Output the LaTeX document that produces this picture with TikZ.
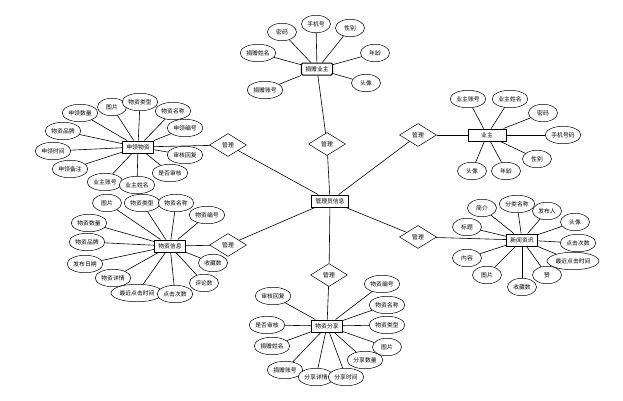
\documentclass[tikz,border=0pt]{standalone}
\usepackage{fontspec}
\setmainfont{Noto Sans CJK SC}
\usetikzlibrary{shapes.geometric}
\begin{document}
\begin{tikzpicture}[x=1pt,y=-1pt,
  attr/.style={draw,ellipse,fill=white,line width=0.5pt,minimum width=29pt,minimum height=17.5pt,inner xsep=1pt,inner ysep=1pt,font=\fontsize{5.8}{6}\selectfont},
  ent/.style={draw,rectangle,fill=white,line width=1pt,minimum height=12pt,inner xsep=4pt,inner ysep=1pt,font=\fontsize{5.8}{6}\selectfont},
  rel/.style={draw,diamond,fill=white,line width=0.5pt,minimum width=37pt,minimum height=23pt,inner sep=0pt,font=\fontsize{5.8}{6}\selectfont},
  link/.style={line width=0.6pt}]
\useasboundingbox (0,0) rectangle (623,400);
\fill[white] (0,0) rectangle (623,400);

% center
\node[ent] (c) at (330,201) {管理员信息};
% diamonds
\node[rel] (dT) at (327,144) {管理};
\node[rel] (dLU) at (228,145) {管理};
\node[rel] (dLL) at (228,245) {管理};
\node[rel] (dRU) at (418,135) {管理};
\node[rel] (dRL) at (418,237) {管理};
\node[rel] (dB) at (329,275) {管理};
% entities
\node[ent,rounded corners=1.5pt] (eT) at (317,69) {捐赠业主};
\node[ent] (eLU) at (138,147) {申领物资};
\node[ent] (eLL) at (170,246) {物资信息};
\node[ent] (eB) at (327,326) {物资分享};
\node[ent] (eRL) at (522,240) {新闻资讯};
\node[ent,minimum width=38pt] (eRU) at (487,135) {业主};

\foreach \d/\e in {dT/eT,dLU/eLU,dLL/eLL,dRU/eRU,dRL/eRL,dB/eB}{
  \draw[link] (c) -- (\d);
  \draw[link] (\d) -- (\e);
}

% top entity
\foreach \n/\p/\t in {t1/{282,32}/密码,t2/{316,24}/手机号,t3/{350,28}/性别,t4/{258,53}/捐赠姓名,t5/{375,53}/年龄,t6/{366,83}/头像,t7/{265,90}/捐赠账号}{
  \node[attr] (\n) at (\p) {\t};
  \draw[link] (eT) -- (\n);
}
% left upper entity
\foreach \n/\p/\t in {a1/{80,113}/申领数量,a2/{112,107}/图片,a3/{140,102}/物资类型,a4/{173,111}/物资名称,a5/{185,128}/申领编号,a6/{63,131}/物资品牌,a7/{53,151}/申领时间,a8/{70,169}/申领备注,a9/{185,155}/审核回复,a10/{170,173}/是否审核,a11/{105,182}/业主账号,a12/{137,185}/业主姓名}{
  \node[attr] (\n) at (\p) {\t};
  \draw[link] (eLU) -- (\n);
}
% left lower entity
\foreach \n/\p/\t in {b1/{107,203}/图片,b2/{142,203}/物资类型,b3/{176,203}/物资名称,b4/{207,215}/物资编号,b5/{89,223}/物资数量,b6/{87,242}/物资品牌,b7/{85,264}/发布日期,b8/{113,278}/物资详情,b9/{137,293}/最近点击时间,b10/{175,294}/点击次数,b11/{204,283}/评论数,b12/{213,263}/收藏数}{
  \node[attr] (\n) at (\p) {\t};
  \draw[link] (eLL) -- (\n);
}
% bottom entity
\foreach \n/\p/\t in {g1/{273,296}/审核回复,g2/{267,325}/是否审核,g3/{272,346}/捐赠姓名,g4/{285,370}/捐赠账号,g5/{316,377}/分享详情,g6/{346,377}/分享时间,g7/{365,360}/分享数量,g8/{387,347}/图片,g9/{387,325}/物资类型,g10/{387,305}/物资名称,g11/{382,284}/物资编号}{
  \node[attr] (\n) at (\p) {\t};
  \draw[link] (eB) -- (\n);
}
% right lower entity
\foreach \n/\p/\t in {r1/{482,208}/简介,r2/{517,204}/分类名称,r3/{547,211}/发布人,r4/{575,222}/头像,r5/{467,227}/标题,r6/{578,243}/点击次数,r7/{573,261}/最近点击时间,r8/{467,258}/内容,r9/{487,275}/图片,r10/{547,275}/赞,r11/{522,287}/收藏数}{
  \node[attr] (\n) at (\p) {\t};
  \draw[link] (eRL) -- (\n);
}
% right upper entity
\foreach \n/\p/\t in {u1/{468,99}/业主账号,u2/{510,99}/业主姓名,u3/{543,113}/密码,u4/{563,135}/手机号码,u5/{537,159}/性别,u6/{506,171}/年龄,u7/{472,171}/头像}{
  \node[attr] (\n) at (\p) {\t};
  \draw[link] (eRU) -- (\n);
}
\end{tikzpicture}
\end{document}
